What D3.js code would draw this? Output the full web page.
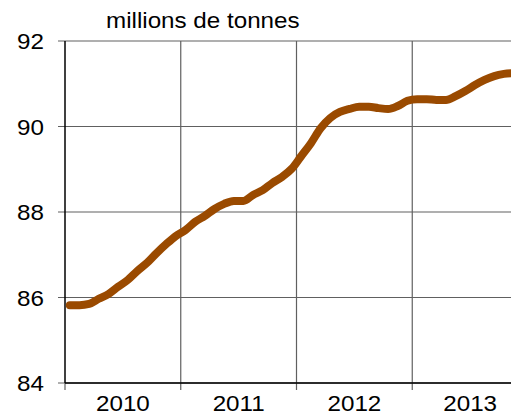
<!DOCTYPE html>
<html><head><meta charset="utf-8">
<script src="https://cdn.jsdelivr.net/npm/d3@7"></script>
<style>body{margin:0;background:#fff}svg{display:block}text{font-family:"Liberation Sans",Arial,sans-serif;fill:#000}</style>
</head><body><svg id="c" width="511" height="415"></svg>
<script>
const startYear = 2010;
const values = [85.82,85.82,85.85,85.97,86.08,86.25,86.41,86.62,86.81,87.04,87.25,87.44,
87.58,87.77,87.91,88.07,88.19,88.26,88.26,88.40,88.51,88.68,88.82,89.01,
89.31,89.61,89.96,90.20,90.34,90.41,90.46,90.46,90.43,90.41,90.48,90.60,
90.64,90.64,90.62,90.62,90.71,90.83,90.97,91.09,91.18,91.23,91.25];
const yTicks = [84,86,88,90,92];
const xYears = [2010,2011,2012,2013];
const unitLabel = "millions de tonnes";

const svg = d3.select("#c");
const m = {l:65, t:41, b:383};
const x = d3.scaleLinear().domain([2010, 2014]).range([65, 528]);
const y = d3.scaleLinear().domain([84, 92]).range([383, 41]);
const fs = 22, sx = 1.1;

// horizontal grid
svg.append("g").selectAll("line").data(yTicks).join("line")
  .attr("x1", 58).attr("x2", 511).attr("y1", d=>y(d)).attr("y2", d=>y(d))
  .attr("stroke", "#606060").attr("stroke-width", 1.2);
// vertical grid
const yearLines = [2011,2012,2013];
svg.append("g").selectAll("line").data(yearLines).join("line")
  .attr("x1", d=>x(d)).attr("x2", d=>x(d)).attr("y1", 41).attr("y2", 390)
  .attr("stroke", "#606060").attr("stroke-width", 1.2);
// ticks on x axis at 2010
svg.append("line").attr("x1", x(2010)).attr("x2", x(2010)).attr("y1", 383).attr("y2", 390).attr("stroke","#606060").attr("stroke-width",1.2);
// axes
svg.append("line").attr("x1", 65).attr("x2", 65).attr("y1", 41).attr("y2", 383).attr("stroke","#000").attr("stroke-width",1.5);
svg.append("line").attr("x1", 65).attr("x2", 511).attr("y1", 383).attr("y2", 383).attr("stroke","#000").attr("stroke-width",1.5);

// y labels
svg.append("g").selectAll("text").data(yTicks).join("text")
  .attr("transform", d=>`translate(44,${y(d)+8}) scale(${sx},1)`)
  .attr("text-anchor","end").attr("font-size", fs).text(d=>d);
// x labels
svg.append("g").selectAll("text").data(xYears).join("text")
  .attr("transform", d=>`translate(${x(d+0.5)},${411}) scale(${sx},1)`)
  .attr("text-anchor","middle").attr("font-size", fs).text(d=>d);
// unit
svg.append("text").attr("transform", `translate(106,28) scale(${sx},1)`).attr("font-size", fs).text(unitLabel);

// line
const line = d3.line().x((d,i)=>x(startYear + (i+0.5)/12)).y(d=>y(d)).curve(d3.curveMonotoneX);
svg.append("path").datum(values).attr("d", line).attr("fill","none")
  .attr("stroke","#9a4a00").attr("stroke-width",8).attr("stroke-linecap","round").attr("stroke-linejoin","round");
</script></body></html>
